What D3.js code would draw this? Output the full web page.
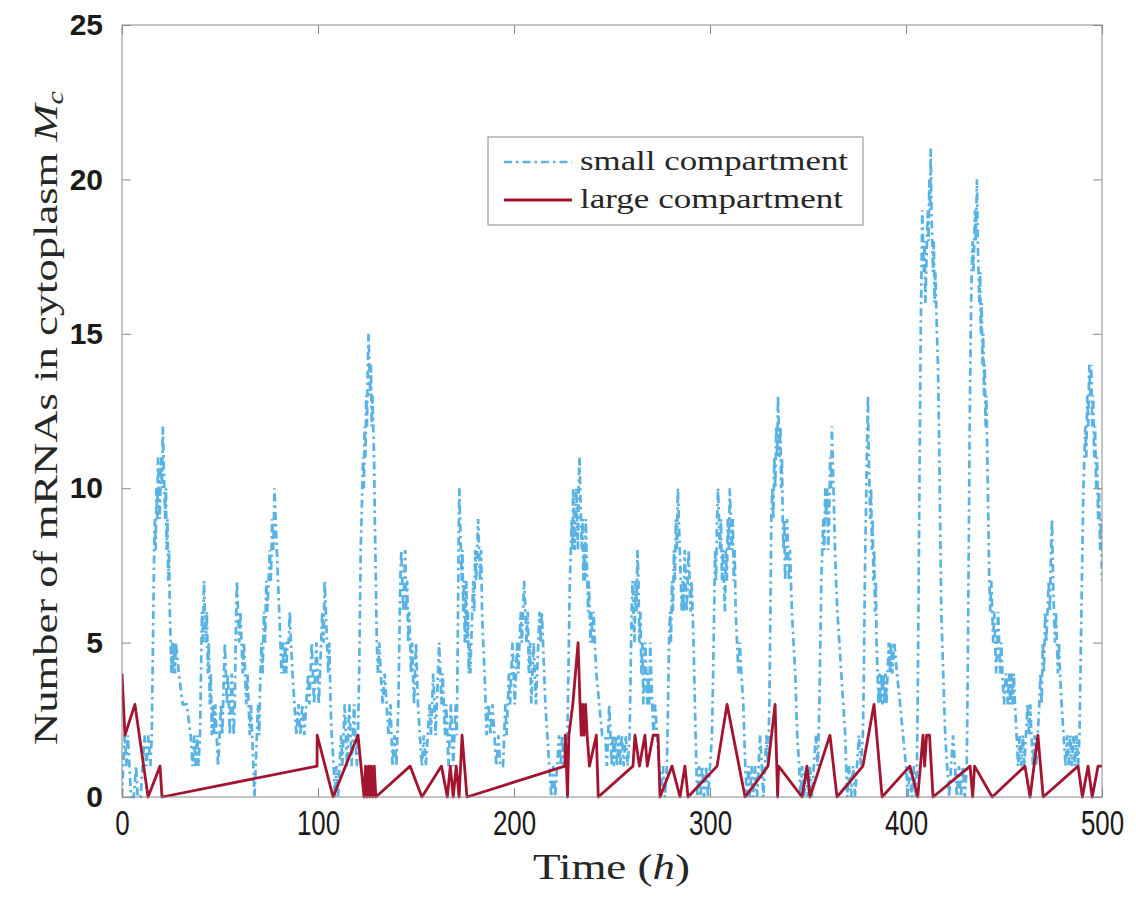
<!DOCTYPE html>
<html>
<head>
  <title>mRNAs in cytoplasm</title>
  <script src="https://d3js.org/d3.v7.min.js"></script>
  <style>
    body { margin: 0; background: #fff; }
  </style>
</head>
<body>
  <div id="chart"></div>

  <script>
    // values: [time (h), count]
    const seriesNames = ["small compartment", "large compartment"];
    const xTicks = [0, 100, 200, 300, 400, 500];
    const yTicks = [0, 5, 10, 15, 20, 25];

    const smallCompartment = [
      [0,0],[0.6,1],[1.4,2],[2.2,1],[3,2],[3.8,1],[4.6,0],[6,0],[7.2,1],[8,0],[9.5,0],[10.5,1],[11.5,2],[12.5,1],[13.5,2],[14.5,1],[15.2,2],
      [15.6,4],[16,6],[16.4,8],[16.8,9],[17.2,8],[17.6,10],[18,9],[18.4,11],[18.8,10],[19.2,9],[19.6,10],[20,11],[20.4,10],[20.8,12],[21.2,11],[21.6,10],[22,9],[22.4,10],[22.8,8],[23.2,9],[23.6,7],[24,8],[24.4,6],[24.8,5],[25.2,4],[25.6,5],[26,4],[26.5,5],[27,4],[27.5,5],
      [29,4],[31,3],[33,3],[35,2],[36,1],[36.8,2],[37.5,1],[38.3,2],[39,1],[39.8,2],
      [40.3,4],[40.8,6],[41.3,5],[41.8,7],[42.3,6],[42.8,5],[43.3,6],[43.8,4],[44.3,5],[44.8,3],[45.3,4],[45.8,2],[46.4,3],[47,2],[47.6,3],[48.3,2],[49,1],[49.8,2],[50.5,3],[51.2,2],
      [52,4],[52.5,5],[53,4],[53.5,3],[54,4],[54.5,3],[55,2],[55.5,3],[56,4],[56.5,3],[57,2],[57.5,3],[58,5],[58.6,7],[59.2,6],[59.8,5],[60.4,6],[61,5],[61.6,4],[62.2,5],[62.8,4],[63.4,3],[64,4],[64.6,3],[65.2,2],[65.8,3],[66.4,2],[67,1],[67.6,0],[68.2,1],[68.8,2],[69.4,3],[70,2],[70.6,4],[71.2,5],[71.8,4],[72.4,6],[73,5],[73.6,7],[74.2,6],[74.8,7],[75.4,8],[76,7],[76.6,9],[77.2,8],[77.8,10],[78.4,9],[79,8],[79.6,7],[80.2,6],[80.8,5],[81.4,4],[82,5],[82.6,4],[83.2,5],[83.8,4],[84.4,5],[85,5],[85.6,6],[86.2,5],[87,4],[88,3],[89,2],[90,3],[91,2],[92,3],[93,2],[94,3],[95,4],[95.6,3],[96.2,4],[96.8,5],[97.4,4],[98,3],[98.6,4],[99.2,5],[99.8,4],[100.4,3],[101,4],[101.6,5],[102.2,6],[102.8,5],[103.4,7],[104,6],[104.6,5],[105.2,4],[105.8,5],[106.4,3],[107,2],[108,1],[108.6,0],[109.4,1],[110.2,0],[111,1],[111.8,2],[112.4,1],[113,2],[113.6,3],[114.2,2],[114.8,1],[115.4,2],[116,3],[116.6,2],[117.2,1],[117.8,2],[118.4,3],[119,2],[119.8,1],[120.4,2],
      [121,4],[121.4,6],[121.8,8],[122.2,9],[122.6,10],[123,11],[123.4,10],[123.8,12],[124.2,11],[124.6,13],[125,12],[125.4,14],[125.8,15],[126.2,14],[126.6,13],[127,14],[127.4,12],[127.8,13],[128.2,12],[128.6,11],[129,9],[129.5,7],[130,5],[130.6,4],[131.3,5],[132,4],[133,3],[134,4],[135,3],[136,2],[137,3],[138,1],[139,2],[140,1],
      [141,3],[141.5,5],[142,7],[142.5,8],[143,7],[143.5,6],[144,7],[144.5,8],[145,6],[145.5,7],[146,5],[146.5,6],[147,5],[147.5,4],[148,5],[148.5,4],[149,3],[149.5,4],[150,5],[150.5,4],[151,3],[152,2],[153,1],[154,2],[155,1],[156,2],[157,3],[157.6,2],[158.2,3],[158.8,4],[159.4,3],[160,2],[160.6,3],[161.2,4],[161.8,5],[162.4,4],[163,3],[163.6,4],[164.2,3],[164.8,2],[165.4,3],[166,2],[166.6,1],[167.2,2],[167.8,3],[168.4,2],[169,1],[169.6,2],[170.2,3],[170.8,2],
      [171.3,5],[171.7,8],[172.1,10],[172.5,9],[172.9,8],[173.3,7],[173.7,8],[174.1,6],[174.5,7],[174.9,5],[175.3,6],[175.7,7],[176.1,5],[176.5,6],[176.9,4],[177.3,5],[177.7,4],[178.2,5],[178.7,6],[179.2,7],[179.7,6],[180.2,8],[180.7,7],[181.2,8],[181.7,9],[182.2,8],[182.7,7],[183.2,8],[183.7,6],[184.3,5],[185,4],[186,2],[187,3],[188,2],[189,3],[190,2],[191,1],[192,2],[193,1],[194.4,1],[195,2],[195.6,3],[196.2,2],[196.8,3],[197.4,4],[198,3],[198.6,4],[199.2,5],[199.8,4],[200.4,3],[201,4],[201.6,5],[202.2,4],[202.8,5],[203.4,6],[204,5],[204.6,6],[205.2,7],[205.8,6],[206.4,5],[207,6],[207.6,4],[208.2,5],[208.8,3],[209.4,4],[210,5],[210.6,4],[211.2,3],[211.8,4],[212.4,5],[213,6],[213.6,5],[214.2,6],[214.8,5],[215.4,4],[216,3],[217,2],[218,1],[219,0],[220,1],[221,0],[222,1],[223,2],[223.8,1],[224.6,2],[225.4,1],[226.2,2],[227,1],
      [227.5,3],[228,5],[228.5,7],[229,8],[229.4,9],[229.8,8],[230.2,10],[230.6,9],[231,8],[231.4,9],[231.8,10],[232.2,9],[232.6,8],[233,10],[233.4,11],[233.8,10],[234.2,9],[234.6,8],[235,9],[235.4,7],[235.8,8],[236.2,7],[236.6,9],[237,8],[237.4,7],[237.8,6],[238.2,7],[238.6,6],[239,5],[239.5,6],[240,5],[240.6,6],[241.2,5],[242,4],[243.5,3],[245,2],[246.5,2],[247.4,1],[248,2],[248.6,3],[249.2,2],[249.8,1],[250.4,2],[251,1],[251.8,2],[252.6,1],[253.4,2],[254.2,1],[255,2],[256,1],[257,2],[258,1],[259,2],
      [259.5,4],[260,6],[260.5,7],[261,6],[261.5,5],[262,7],[262.5,6],[263,8],[263.5,7],[264,5],[264.5,6],[265,4],[265.5,5],[266,3],[266.5,4],[267,5],[267.5,4],[268,3],[268.5,4],[269,3],[269.5,5],[270,4],[270.5,3],[271.2,2],[272,3],[273,2],[274,1],[275,0],[276,1],[277,0],[278,1],
      [278.6,3],[279.1,5],[279.6,6],[280.1,5],[280.6,7],[281.1,6],[281.6,8],[282.1,7],[282.6,9],[283.1,8],[283.6,10],[284.1,9],[284.6,8],[285.1,7],[285.6,6],[286.1,7],[286.6,6],[287.1,8],[287.6,7],[288.1,6],[288.6,7],[289.1,8],[289.6,7],[290.1,6],[290.6,7],[291.1,6],[291.6,5],[292.3,3],[293,1],[293.6,0],[294.4,1],[295.2,0],[296,1],[297,0],[298,1],[299,0],[300,1],[301,2],
      [301.6,4],[302.1,6],[302.6,8],[303.1,7],[303.6,9],[304.1,10],[304.6,9],[305.1,8],[305.6,9],[306.1,7],[306.6,8],[307.1,7],[307.6,6],[308.1,8],[308.6,7],[309.1,9],[309.6,8],[310.1,10],[310.6,9],[311.1,8],[311.6,9],[312.1,7],[312.6,8],[313.1,6],[313.8,5],[314.5,4],[315.2,5],[316,4],[317,3],[318,1],[318.8,0],[319.6,1],[320.4,0],[321.2,1],[322,0],[323,1],[324,0],[324.8,1],[325.6,2],[326.4,1],[327.2,0],[328,1],[328.8,2],[329.6,1],
      [330.3,3],[330.8,6],[331.3,9],[331.8,10],[332.3,9],[332.8,11],[333.3,10],[333.8,12],[334.3,11],[334.7,13],[335.1,12],[335.5,11],[335.9,12],[336.3,10],[336.7,11],[337.1,9],[337.5,8],[337.9,9],[338.3,7],[338.8,8],[339.3,9],[339.8,8],[340.3,7],[340.8,8],[341.3,7],[341.8,6],[342.6,5],[343.5,4],[344.5,2],[345.5,1],[346.2,0],[347,1],[348,0],[349,1],[350,0],[351,1],[352,0],[353,1],[354,2],[355,1],
      [355.8,3],[356.3,5],[356.8,7],[357.3,8],[357.8,9],[358.3,8],[358.8,10],[359.3,9],[359.8,10],[360.3,8],[360.8,9],[361.3,11],[361.8,10],[362.2,12],[362.6,11],[363,10],[363.4,9],[363.8,8],[364.3,7],[365,6],[366,5],[367,4],[368,3],[369,2],[370,0],[371,1],[372,0],[373,1],[374,0],[375,1],[376,2],[377,1],[378,2],
      [378.5,4],[379,7],[379.5,9],[380,11],[380.3,12],[380.6,13],[381,11],[381.4,10],[381.8,9],[382.2,10],[382.6,8],[383,9],[383.4,7],[383.8,8],[384.2,6],[384.6,7],[385,5],[385.5,4],[386,3],[386.5,4],[387,3],[387.5,4],[388,3],[388.5,4],[389,3],[389.5,4],[390,3],[390.6,4],[391.2,5],[391.8,4],[392.4,5],[393,4],[394,5],[395.4,4],[397,3],[398.5,2],[400,1],[401,0],[402,1],[403,0],[404,1],[405,0],[405.6,1],
      [406.1,4],[406.6,8],[407.1,12],[407.5,15],[407.9,17],[408.3,19],[408.7,18],[409.1,17],[409.5,18],[409.9,16],[410.3,17],[410.7,18],[411.1,19],[411.5,18],[411.9,20],[412.3,19],[412.6,21],[413,19],[413.4,18],[413.8,17],[414.2,18],[414.6,16],[415,17],[415.4,16],[415.8,15],[416.3,14],[416.8,12],[417.4,9],[418,6],[419,4],[420,2],[421,1],[422,0],[423,1],[424,2],[425,1],[426,0],[427,1],[428,0],[429,1],[430,0],[431,1],
      [431.5,4],[432,8],[432.5,12],[433,15],[433.5,17],[434,18],[434.4,17],[434.8,18],[435.2,19],[435.6,18],[436.2,20],[436.6,18],[437,17],[437.4,16],[437.8,17],[438.2,15],[438.6,16],[439,14],[439.4,15],[439.8,13],[440.2,14],[440.6,12],[441,13],[441.5,11],[442,9],[442.5,7],[443,6],[443.5,7],[444,6],[444.5,5],[445,6],[445.5,5],[446,4],[446.5,5],[447,6],[447.5,5],[448,4],[448.6,5],[449.2,4],[450,3],[451,4],[452,3],[452.6,4],[453.2,3],[453.8,4],[454.4,3],[455,4],[455.6,3],[456.4,2],[457.2,1],[458,2],[458.8,1],[459.6,2],[460.4,1],[461.2,2],[462,3],[462.8,2],[463.4,3],[464,2],[464.8,1],[465.6,2],[466.4,1],[467.2,2],
      [468,3],[468.6,4],[469.2,3],[469.8,5],[470.4,4],[471,6],[471.6,5],[472.2,6],[472.8,7],[473.4,6],[474,8],[474.5,9],[475,7],[475.5,6],[476,5],[476.5,6],[477,5],[477.5,4],[478,5],[478.6,4],[479.4,3],[480.4,2],[481.4,1],[482.2,2],[483,1],[483.8,2],[484.6,1],[485.4,2],[486.2,1],[487,2],[487.8,1],
      [488.5,2],[489,4],[489.5,6],[490,8],[490.5,10],[491,11],[491.5,12],[492,11],[492.5,13],[493,12],[493.5,14],[494,13],[494.5,14],[495,12],[495.5,13],[496,11],[496.5,12],[497,10],[497.5,11],[498,9],[498.5,10],[499,8],[499.5,9],[500,7]
    ];

    const largeCompartment = [
      [0,4],[1.5,2],[6.6,3],[13.3,0],[19.4,1],[20.4,0],[99.5,1],[99.6,2],[107.7,0],[120.4,2],[123.5,0],[124.3,1],[125,0],[125.8,1],[126.5,0],[127.2,1],[128,0],[128.7,1],[129.5,0],
      [147,1],[153,0],[163,1],[166,0],[167.5,1],[169,0],[170.5,1],[172,0],[173.5,2],[176,0],
      [226,1],[226.2,2],[227.3,0],[228,2],[230,3],[232.7,5],[233.7,3],[234.3,2],[235,3],[235.7,2],[236.5,3],[237.3,2],[238.5,1],[242,2],[243,0],
      [260.7,1],[261.7,2],[264,1],[266.8,2],[268,1],[271,2],[273.5,2],[274.5,0],[280.6,1],[284.7,0],[287.2,1],[288.8,0],
      [303.6,1],[308.7,3],[317.9,0],[329.6,1],[333.2,3],[334.5,0],[335,1],[347,0],[349.5,1],[351,0],[361.2,2],[364.8,0],
      [378,1],[383.7,3],[387.8,0],[402,1],[406,0],[408.7,2],[409.5,1],[410.5,2],[412,2],[413.8,0],
      [432.7,1],[434,0],[435,1],[444,0],[460.7,1],[463.3,0],[467.3,2],[470,0],[487.8,1],[490,0],[492.9,1],[495,0],[498,1],[500,1]
    ];

    const colors = ["#58b2e4", "#a2142f"];

    const margin = { top: 25, right: 34, bottom: 102, left: 122 };
    const width = 1136 - margin.left - margin.right;
    const height = 899 - margin.top - margin.bottom;

    const xScale = d3.scaleLinear().domain([0, 500]).range([0, width]);
    const yScale = d3.scaleLinear().domain([0, 25]).range([height, 0]);

    const svg = d3.select("#chart")
      .append("svg")
      .attr("width", 1136)
      .attr("height", 899)
      .append("g")
      .attr("transform", "translate(" + margin.left + "," + margin.top + ")");

    svg.append("clipPath")
      .attr("id", "plotClip")
      .append("rect")
      .attr("x", 0).attr("y", -2)
      .attr("width", width).attr("height", height + 4);

    const line = d3.line()
      .x(d => xScale(d[0]))
      .y(d => yScale(d[1]));

    const plot = svg.append("g").attr("clip-path", "url(#plotClip)");

    plot.append("path")
      .datum(smallCompartment)
      .attr("fill", "none")
      .attr("stroke", colors[0])
      .attr("stroke-width", 2.7)
      .attr("stroke-dasharray", "8,4,2.5,4")
      .attr("d", line);

    plot.append("path")
      .datum(largeCompartment)
      .attr("fill", "none")
      .attr("stroke", colors[1])
      .attr("stroke-width", 2.8)
      .attr("stroke-linejoin", "round")
      .attr("d", line);

    // axes, ticks pointing inwards on all four sides
    const axisColor = "#8a8a8a";

    const xAxis = svg.append("g")
      .attr("transform", "translate(0," + height + ")")
      .call(d3.axisBottom(xScale).tickValues(xTicks).tickSizeInner(-9).tickSizeOuter(0).tickPadding(12));

    svg.append("g")
      .call(d3.axisTop(xScale).tickValues(xTicks).tickSizeInner(-9).tickSizeOuter(0).tickFormat(""));

    const yAxis = svg.append("g")
      .call(d3.axisLeft(yScale).tickValues(yTicks).tickSizeInner(-9).tickSizeOuter(0).tickPadding(19));

    svg.append("g")
      .attr("transform", "translate(" + width + ",0)")
      .call(d3.axisRight(yScale).tickValues(yTicks).tickSizeInner(-9).tickSizeOuter(0).tickFormat(""));

    svg.selectAll(".domain").remove();
    svg.selectAll(".tick line").attr("stroke", axisColor);

    svg.append("rect")
      .attr("width", width)
      .attr("height", height)
      .attr("fill", "none")
      .attr("stroke", axisColor)
      .attr("stroke-width", 1);

    xAxis.selectAll("text")
      .attr("fill", "#1a1a1a")
      .style("font-family", "'Liberation Sans', Arial, sans-serif")
      .style("font-size", "36px")
      .attr("transform", "scale(0.72,1)")
      .attr("dy", "0.71em");

    yAxis.selectAll("text")
      .attr("fill", "#1a1a1a")
      .style("font-family", "'Liberation Sans', Arial, sans-serif")
      .style("font-size", "30px")
      .style("font-weight", "bold");

    // axis labels
    svg.append("text")
      .attr("x", 533 - margin.left)
      .attr("y", 879 - margin.top)
      .attr("textLength", 157)
      .attr("lengthAdjust", "spacingAndGlyphs")
      .style("font-family", "'Liberation Serif', 'Times New Roman', serif")
      .style("font-size", "36px")
      .attr("fill", "#262626")
      .html("Time (<tspan font-style='italic'>h</tspan>)");

    svg.append("text")
      .attr("transform", "translate(" + (57 - margin.left) + "," + (745 - margin.top) + ") rotate(-90)")
      .attr("textLength", 654)
      .attr("lengthAdjust", "spacingAndGlyphs")
      .style("font-family", "'Liberation Serif', 'Times New Roman', serif")
      .style("font-size", "34px")
      .attr("fill", "#262626")
      .html("Number of mRNAs in cytoplasm <tspan font-style='italic'>M</tspan><tspan font-style='italic' font-size='23px' dy='6'>c</tspan>");

    // legend
    const legend = svg.append("g")
      .attr("transform", "translate(" + (488 - margin.left) + "," + (137 - margin.top) + ")");

    legend.append("rect")
      .attr("width", 375)
      .attr("height", 88)
      .attr("fill", "#fff")
      .attr("stroke", axisColor)
      .attr("stroke-width", 1);

    const rows = [25, 63];
    const textLengths = [268, 263];

    seriesNames.forEach(function(name, i) {
      legend.append("line")
        .attr("x1", 16).attr("x2", 84)
        .attr("y1", rows[i]).attr("y2", rows[i])
        .attr("stroke", colors[i])
        .attr("stroke-width", i === 0 ? 2.7 : 2.8)
        .attr("stroke-dasharray", i === 0 ? "8,4,2.5,4" : null);

      legend.append("text")
        .attr("x", 92)
        .attr("y", rows[i] + 8)
        .attr("textLength", textLengths[i])
        .attr("lengthAdjust", "spacingAndGlyphs")
        .style("font-family", "'Liberation Serif', 'Times New Roman', serif")
        .style("font-size", "28px")
        .attr("fill", "#262626")
        .text(name);
    });
  </script>
</body>
</html>
